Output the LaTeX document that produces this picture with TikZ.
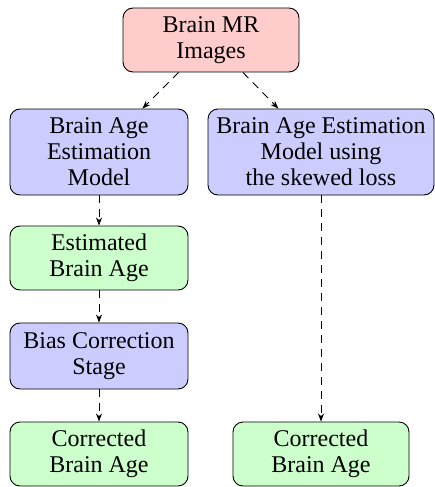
\documentclass[tikz,border=0pt]{standalone}
\usepackage{fontspec}
\setmainfont{Liberation Serif}
\usetikzlibrary{arrows.meta}
\begin{document}
\begin{tikzpicture}[x=1pt,y=-1pt,
  box/.style={draw, line width=0.9pt, rounded corners=10pt, align=center,
    font=\fontsize{24}{26}\selectfont, inner sep=2pt, minimum height=64pt},
  redbox/.style={box, fill={rgb,255:red,255;green,204;blue,204}},
  bluebox/.style={box, fill={rgb,255:red,204;green,204;blue,255}},
  greenbox/.style={box, fill={rgb,255:red,204;green,255;blue,204}},
  conn/.style={draw, line width=0.9pt, dash pattern=on 8pt off 6pt,
    -{Stealth[length=8pt,width=6pt,inset=2.5pt]}}]
\useasboundingbox (0,0) rectangle (435,487);
\node[redbox, minimum width=176pt] (mr) at (211,40) {Brain MR\\Images};
\node[bluebox, minimum width=178pt, minimum height=86pt] (lm) at (99,152) {Brain Age\\Estimation\\Model};
\node[bluebox, minimum width=226pt, minimum height=86pt] (rm) at (321,152) {Brain Age Estimation\\Model using\\the skewed loss};
\node[greenbox, minimum width=178pt] (est) at (99,258) {Estimated\\Brain Age};
\node[bluebox, minimum width=178pt, minimum height=66pt] (bias) at (99,356) {Bias Correction\\Stage};
\node[greenbox, minimum width=178pt] (lc) at (99,454) {Corrected\\Brain Age};
\node[greenbox, minimum width=176pt] (rc) at (321,454) {Corrected\\Brain Age};
\draw[conn] (mr) -- (lm);
\draw[conn] (mr) -- (rm);
\draw[conn] (lm) -- (est);
\draw[conn] (est) -- (bias);
\draw[conn] (bias) -- (lc);
\draw[conn] (rm) -- (rc);
\end{tikzpicture}
\end{document}
